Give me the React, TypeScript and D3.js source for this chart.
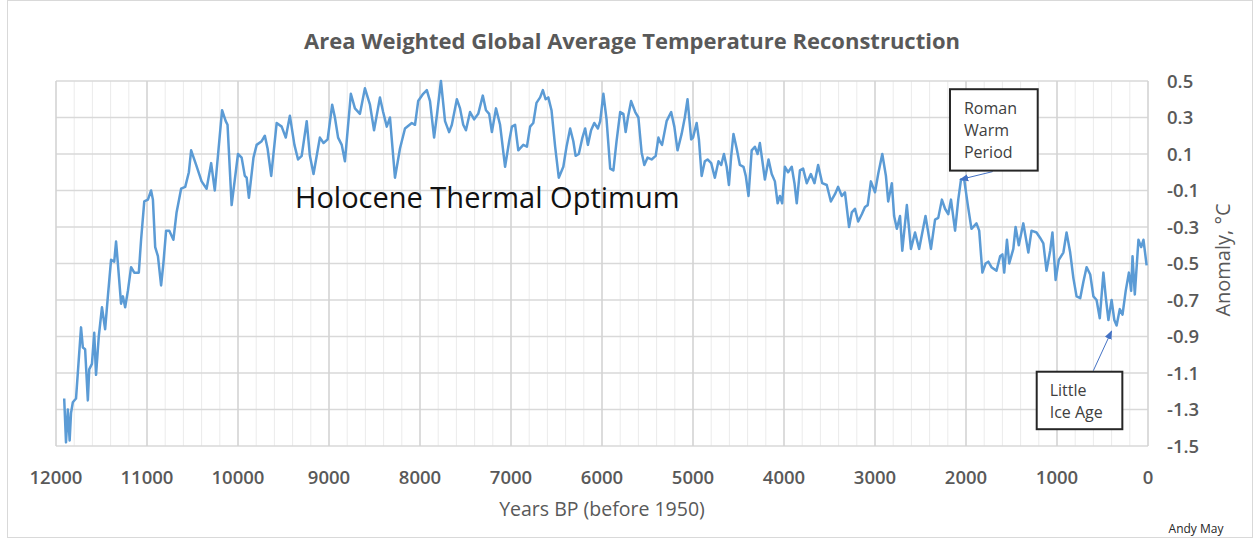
import * as d3 from "d3";

// Years BP and reconstructed anomaly (°C)
const years = [
  11910, 11890, 11870, 11850, 11835, 11815, 11780, 11725, 11705, 11680, 11650, 11635, 11605, 11580, 11560,
  11530, 11495, 11460, 11430, 11395, 11360, 11340, 11320, 11285, 11265, 11240, 11210, 11175, 11140, 11090,
  11065, 11030, 10990, 10955, 10935, 10910, 10880, 10845, 10820, 10790, 10755, 10710, 10675, 10625, 10580,
  10540, 10515, 10460, 10400, 10345, 10295, 10255, 10175, 10135, 10115, 10070, 10000, 9960, 9925, 9905,
  9880, 9830, 9795, 9740, 9705, 9675, 9635, 9575, 9520, 9475, 9430, 9380, 9340, 9300, 9245,
  9210, 9170, 9135, 9100, 9060, 9015, 8965, 8935, 8900, 8860, 8825, 8760, 8715, 8660, 8605,
  8550, 8505, 8440, 8405, 8365, 8330, 8275, 8220, 8165, 8090, 8055, 8020, 7965, 7925, 7890,
  7845, 7810, 7770, 7725, 7680, 7650, 7595, 7560, 7525, 7495, 7450, 7405, 7360, 7310, 7275,
  7240, 7210, 7165, 7120, 7065, 7020, 6990, 6955, 6920, 6865, 6825, 6790, 6755, 6720, 6680,
  6650, 6620, 6590, 6555, 6515, 6475, 6425, 6390, 6350, 6315, 6290, 6255, 6215, 6185, 6155,
  6120, 6085, 6045, 6020, 5985, 5950, 5910, 5875, 5840, 5800, 5765, 5740, 5715, 5680, 5635,
  5600, 5565, 5535, 5500, 5455, 5410, 5380, 5365, 5340, 5290, 5240, 5205, 5170, 5125, 5090,
  5060, 5020, 5000, 4960, 4935, 4905, 4870, 4840, 4800, 4760, 4720, 4690, 4660, 4630, 4605,
  4580, 4555, 4520, 4485, 4445, 4420, 4390, 4355, 4320, 4290, 4265, 4240, 4210, 4170, 4135,
  4100, 4070, 4045, 4020, 3990, 3955, 3915, 3885, 3860, 3825, 3790, 3750, 3705, 3665, 3625,
  3580, 3530, 3485, 3440, 3405, 3365, 3330, 3285, 3255, 3220, 3185, 3145, 3110, 3080, 3045,
  3000, 2965, 2920, 2880, 2855, 2815, 2790, 2760, 2725, 2700, 2650, 2605, 2560, 2515, 2480,
  2445, 2385, 2340, 2305, 2265, 2230, 2195, 2165, 2120, 2085, 2055, 2020, 1980, 1940, 1885,
  1855, 1820, 1785, 1755, 1720, 1665, 1625, 1600, 1580, 1550, 1525, 1480, 1455, 1420, 1370,
  1315, 1280, 1225, 1185, 1150, 1115, 1075, 1050, 1015, 980, 930, 895, 855, 820, 785,
  745, 710, 675, 635, 600, 565, 530, 490, 465, 435, 400, 370, 345, 310, 280,
  245, 210, 185, 170, 145, 105, 75, 50, 15,
];
const anomaly = [
  -1.24, -1.48, -1.3, -1.47, -1.32, -1.26, -1.24, -0.85, -0.96, -0.97, -1.25, -1.08, -1.05, -0.88, -1.11,
  -0.9, -0.74, -0.86, -0.68, -0.48, -0.49, -0.38, -0.5, -0.72, -0.68, -0.74, -0.65, -0.52, -0.55, -0.55,
  -0.37, -0.16, -0.15, -0.1, -0.15, -0.41, -0.46, -0.62, -0.5, -0.32, -0.32, -0.37, -0.22, -0.09, -0.08,
  0.0, 0.12, 0.04, -0.05, -0.09, 0.05, -0.1, 0.34, 0.28, 0.26, -0.18, 0.1, 0.08, -0.02, -0.03,
  -0.14, 0.08, 0.15, 0.17, 0.2, 0.13, -0.02, 0.27, 0.25, 0.19, 0.31, 0.15, 0.07, 0.09, 0.28,
  0.09, -0.01, 0.09, 0.19, 0.16, 0.18, 0.37, 0.3, 0.19, 0.15, 0.06, 0.43, 0.35, 0.32, 0.46,
  0.37, 0.23, 0.41, 0.33, 0.25, 0.3, -0.03, 0.13, 0.24, 0.27, 0.26, 0.39, 0.43, 0.45, 0.39,
  0.19, 0.33, 0.5, 0.28, 0.22, 0.26, 0.4, 0.35, 0.26, 0.23, 0.33, 0.29, 0.32, 0.42, 0.34,
  0.32, 0.22, 0.35, 0.26, 0.03, 0.17, 0.25, 0.26, 0.12, 0.15, 0.14, 0.25, 0.27, 0.38, 0.41,
  0.45, 0.4, 0.41, 0.34, 0.14, -0.03, 0.03, 0.14, 0.24, 0.17, 0.09, 0.1, 0.19, 0.24, 0.15,
  0.23, 0.27, 0.24, 0.28, 0.43, 0.29, 0.02, 0.01, 0.17, 0.33, 0.32, 0.22, 0.3, 0.39, 0.33,
  0.3, 0.11, 0.04, 0.08, 0.07, 0.09, 0.19, 0.17, 0.15, 0.28, 0.33, 0.25, 0.12, 0.21, 0.3,
  0.4, 0.18, 0.19, 0.27, 0.18, -0.02, 0.06, 0.07, 0.05, -0.03, 0.06, 0.04, 0.1, 0.03, -0.07,
  0.09, 0.21, 0.13, 0.04, 0.03, -0.02, -0.13, 0.12, 0.14, 0.1, 0.16, 0.07, -0.04, 0.07, -0.01,
  -0.05, -0.17, -0.13, -0.17, 0.03, 0.0, 0.03, -0.06, -0.17, 0.01, 0.02, -0.06, -0.01, -0.06, 0.04,
  -0.06, -0.07, -0.16, -0.12, -0.08, -0.13, -0.11, -0.3, -0.22, -0.2, -0.27, -0.23, -0.19, -0.18, -0.05,
  -0.11, -0.01, 0.1, -0.02, -0.16, -0.06, -0.24, -0.31, -0.24, -0.43, -0.18, -0.42, -0.33, -0.42, -0.33,
  -0.24, -0.42, -0.26, -0.25, -0.15, -0.2, -0.23, -0.15, -0.32, -0.15, -0.04, -0.04, -0.18, -0.31, -0.28,
  -0.32, -0.55, -0.5, -0.49, -0.52, -0.54, -0.46, -0.45, -0.55, -0.37, -0.5, -0.42, -0.3, -0.4, -0.28,
  -0.44, -0.32, -0.33, -0.36, -0.39, -0.54, -0.43, -0.33, -0.59, -0.48, -0.44, -0.33, -0.44, -0.58, -0.68,
  -0.69, -0.6, -0.52, -0.56, -0.68, -0.7, -0.8, -0.55, -0.68, -0.81, -0.7, -0.81, -0.84, -0.75, -0.78,
  -0.65, -0.55, -0.65, -0.46, -0.67, -0.37, -0.41, -0.37, -0.51,
];

const xTicks = [12000, 11000, 10000, 9000, 8000, 7000, 6000, 5000, 4000, 3000, 2000, 1000, 0];
const yTicks = [0.5, 0.3, 0.1, -0.1, -0.3, -0.5, -0.7, -0.9, -1.1, -1.3, -1.5];
const yTickLabels = ["0.5", "0.3", "0.1", "-0.1", "-0.3", "-0.5", "-0.7", "-0.9", "-1.1", "-1.3", "-1.5"];

const W = 1254;
const H = 539;
const font = "'Open Sans', 'Noto Sans', sans-serif";

export default function App() {
  const x = d3.scaleLinear().domain([12000, 0]).range([56, 1148]);
  const y = d3.scaleLinear().domain([-1.5, 0.5]).range([446, 81]);

  const pts: [number, number][] = years.map((yr, i) => [yr, anomaly[i]]);
  const line = d3
    .line<[number, number]>()
    .x((d) => x(d[0]))
    .y((d) => y(d[1]));

  const minor = d3.range(0, 12001, 200).filter((v) => v % 1000 !== 0);

  // annotation boxes (data coords)
  const roman = { x0: 2176, x1: 1212, y0: 0.455, y1: 0.009 };
  const lia = { x0: 1223, x1: 282, y0: -1.093, y1: -1.408 };

  return (
    <div>
      <style>{`body{margin:0}`}</style>
      <svg width={W} height={H} style={{ display: "block", background: "#fff" }}>
        <defs>
          <marker id="tri" viewBox="0 0 10 10" refX="9" refY="5" markerWidth="9" markerHeight="9" orient="auto">
            <path d="M0,1 L10,5 L0,9 Z" fill="#4472c4" />
          </marker>
        </defs>
        <rect x={7.5} y={0.5} width={W - 9} height={H - 2} fill="none" stroke="#d9d9d9" />

        {/* title */}
        <text x={632} y={49} textAnchor="middle" fontFamily={font} fontWeight={700} fontSize={22} fill="#595959">
          Area Weighted Global Average Temperature Reconstruction
        </text>

        {/* grid */}
        {minor.map((v) => (
          <line key={"m" + v} x1={x(v)} x2={x(v)} y1={y(0.5)} y2={y(-1.5)} stroke="#ebebeb" strokeWidth={1} />
        ))}
        {yTicks.map((v) => (
          <line key={"h" + v} x1={x(12000)} x2={x(0)} y1={y(v)} y2={y(v)} stroke="#d9d9d9" strokeWidth={1.3} />
        ))}
        {xTicks.map((v) => (
          <line key={"v" + v} x1={x(v)} x2={x(v)} y1={y(0.5)} y2={y(-1.5)} stroke="#d4d4d4" strokeWidth={1.6} />
        ))}

        {/* series */}
        <path d={line(pts) ?? ""} fill="none" stroke="#5b9bd5" strokeWidth={2.5} strokeLinejoin="round" />

        {/* x tick labels */}
        {xTicks.map((v) => (
          <text key={"xt" + v} x={x(v)} y={484} textAnchor="middle" fontFamily={font} fontWeight={600} fontSize={18.5} fill="#595959">
            {String(v)}
          </text>
        ))}
        {/* y tick labels */}
        {yTicks.map((v, i) => (
          <text key={"yt" + v} x={1167} y={y(v) + 6.5} fontFamily={font} fontWeight={600} fontSize={18.5} fill="#595959">
            {yTickLabels[i]}
          </text>
        ))}

        <text x={602} y={516} textAnchor="middle" fontFamily={font} fontSize={19.5} fill="#595959">
          Years BP (before 1950)
        </text>
        <text
          transform={`translate(1230,${260}) rotate(-90)`}
          textAnchor="middle"
          fontFamily={font}
          fontSize={20}
          fill="#595959"
        >
          Anomaly, °C
        </text>
        <text x={1196} y={533} textAnchor="middle" fontFamily={font} fontSize={12} fill="#262626">
          Andy May
        </text>

        <text x={295} y={208} fontFamily={font} fontSize={29} fill="#111">
          Holocene Thermal Optimum
        </text>

        {/* Roman Warm Period */}
        <line x1={992.7} y1={y(roman.y1) + 1} x2={x(2065)} y2={y(-0.04)} stroke="#4472c4" strokeWidth={1} markerEnd="url(#tri)" />
        <rect x={x(roman.x0)} y={y(roman.y0)} width={x(roman.x1) - x(roman.x0)} height={y(roman.y1) - y(roman.y0)} fill="#fff" stroke="#262626" strokeWidth={2} />
        {["Roman", "Warm", "Period"].map((s, i) => (
          <text key={s} x={x(roman.x0) + 14} y={y(roman.y0) + 25 + i * 22} fontFamily={font} fontSize={16} fill="#404040">
            {s}
          </text>
        ))}

        {/* Little Ice Age */}
        <line x1={1093.3} y1={y(lia.y0) - 1} x2={x(400)} y2={y(-0.87)} stroke="#4472c4" strokeWidth={1} markerEnd="url(#tri)" />
        <rect x={x(lia.x0)} y={y(lia.y0)} width={x(lia.x1) - x(lia.x0)} height={y(lia.y1) - y(lia.y0)} fill="#fff" stroke="#262626" strokeWidth={2} />
        {["Little", "Ice Age"].map((s, i) => (
          <text key={s} x={x(lia.x0) + 13} y={y(lia.y0) + 24 + i * 22} fontFamily={font} fontSize={16} fill="#404040">
            {s}
          </text>
        ))}
      </svg>
    </div>
  );
}
